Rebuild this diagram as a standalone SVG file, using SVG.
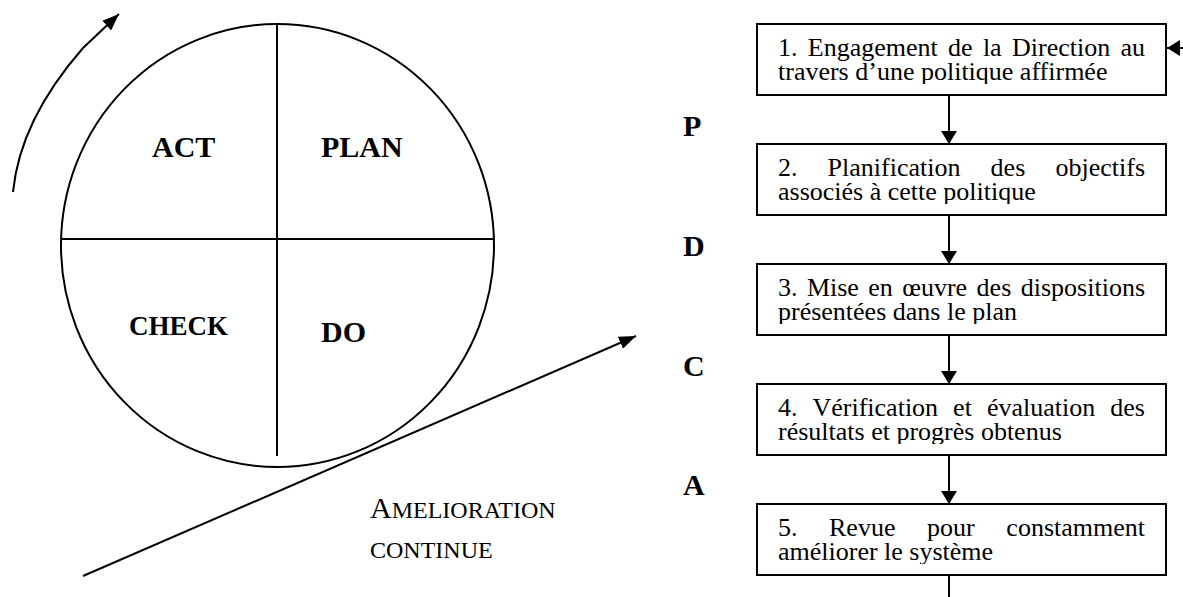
<svg xmlns="http://www.w3.org/2000/svg" width="1183" height="597" viewBox="0 0 1183 597">
<style>
.ln{fill:none;stroke:#000;stroke-width:2}
.bx{fill:#fff;stroke:#000;stroke-width:2}
.big{font-family:"Liberation Serif","Times New Roman",serif;font-weight:bold;fill:#000}
.tx{font-family:"Liberation Serif","Times New Roman",serif;font-size:26px;fill:#000}
.sc{font-family:"Liberation Serif","Times New Roman",serif;fill:#000}
</style>
<defs>
<marker id="ah" viewBox="0 0 13 16" refX="13" refY="8" markerWidth="13" markerHeight="16" markerUnits="userSpaceOnUse" orient="auto"><path d="M0,0 L13,8 L0,16 z" fill="#000"/></marker>
<marker id="ah2" viewBox="0 0 17 13" refX="17" refY="6.5" markerWidth="17" markerHeight="13" markerUnits="userSpaceOnUse" orient="auto"><path d="M0,0 L17,6.5 L0,13 z" fill="#000"/></marker>
<clipPath id="c1"><rect x="757" y="24" width="409" height="60"/></clipPath>
<clipPath id="c2"><rect x="757" y="144" width="409" height="60"/></clipPath>
<clipPath id="c3"><rect x="757" y="264" width="409" height="60"/></clipPath>
<clipPath id="c4"><rect x="757" y="384" width="409" height="60"/></clipPath>
<clipPath id="c5"><rect x="757" y="504" width="409" height="60"/></clipPath>
</defs>

<g id="pdca-circle">
<ellipse class="ln" cx="277.5" cy="245.5" rx="216.5" ry="221.5"/>
<line class="ln" x1="61" y1="239" x2="494" y2="239"/>
<line class="ln" x1="277" y1="24" x2="277" y2="456"/>
<text class="big" x="152" y="157" font-size="30">ACT</text>
<text class="big" x="321" y="157" font-size="30">PLAN</text>
<text class="big" x="129" y="335" font-size="27">CHECK</text>
<text class="big" x="321" y="342" font-size="30">DO</text>
</g>

<g id="amelioration-label">
<text class="sc" x="370" y="518" font-size="30">A<tspan font-size="24">MELIORATION</tspan></text>
<text class="sc" x="370" y="558" font-size="24">CONTINUE</text>
</g>

<g id="phase-letters">
<text class="big" x="683" y="136" font-size="30">P</text>
<text class="big" x="683" y="256" font-size="30">D</text>
<text class="big" x="683" y="376" font-size="30">C</text>
<text class="big" x="683" y="495" font-size="30">A</text>
</g>

<g id="box1">
<rect class="bx" x="757" y="24" width="409" height="71"/>
<text class="tx" y="56"><tspan x="778">1.</tspan><tspan x="807.8">Engagement</tspan><tspan x="948.1">de</tspan><tspan x="982.9">la</tspan><tspan x="1012">Direction</tspan><tspan x="1145" text-anchor="end">au</tspan></text>
<text class="tx" x="778" y="80" clip-path="url(#c1)">travers d’une politique affirmée</text>
</g>

<g id="box2">
<rect class="bx" x="757" y="144" width="409" height="71"/>
<text class="tx" y="176"><tspan x="778">2.</tspan><tspan x="827.6">Planification</tspan><tspan x="990.6">des</tspan><tspan x="1145" text-anchor="end">objectifs</tspan></text>
<text class="tx" x="778" y="200" clip-path="url(#c2)">associés à cette politique</text>
</g>

<g id="box3">
<rect class="bx" x="757" y="264" width="409" height="71"/>
<text class="tx" y="296"><tspan x="778">3.</tspan><tspan x="806.9">Mise</tspan><tspan x="868.3">en</tspan><tspan x="902.2">œuvre</tspan><tspan x="976.6">des</tspan><tspan x="1145" text-anchor="end">dispositions</tspan></text>
<text class="tx" x="778" y="320" clip-path="url(#c3)">présentées dans le plan</text>
</g>

<g id="box4">
<rect class="bx" x="757" y="384" width="409" height="71"/>
<text class="tx" y="416"><tspan x="778">4.</tspan><tspan x="812.5">Vérification</tspan><tspan x="953.1">et</tspan><tspan x="986.9">évaluation</tspan><tspan x="1145" text-anchor="end">des</tspan></text>
<text class="tx" x="778" y="440" clip-path="url(#c4)">résultats et progrès obtenus</text>
</g>

<g id="box5">
<rect class="bx" x="757" y="504" width="409" height="71"/>
<text class="tx" y="536"><tspan x="778">5.</tspan><tspan x="829">Revue</tspan><tspan x="926.9">pour</tspan><tspan x="1145" text-anchor="end">constamment</tspan></text>
<text class="tx" x="778" y="560" clip-path="url(#c5)">améliorer le système</text>
</g>

<g id="connectors">
<path class="ln" d="M13,192 Q20,120 83,48 L119,14" marker-end="url(#ah2)"/>
<line class="ln" x1="83" y1="576" x2="636" y2="336" marker-end="url(#ah2)"/>
<line class="ln" x1="949" y1="96" x2="949" y2="144" marker-end="url(#ah)"/>
<line class="ln" x1="949" y1="216" x2="949" y2="264" marker-end="url(#ah)"/>
<line class="ln" x1="949" y1="336" x2="949" y2="384" marker-end="url(#ah)"/>
<line class="ln" x1="949" y1="456" x2="949" y2="504" marker-end="url(#ah)"/>
<line class="ln" x1="949" y1="576" x2="949" y2="597"/>
<line class="ln" x1="1183" y1="48" x2="1167" y2="48" marker-end="url(#ah)"/>
</g>
</svg>
